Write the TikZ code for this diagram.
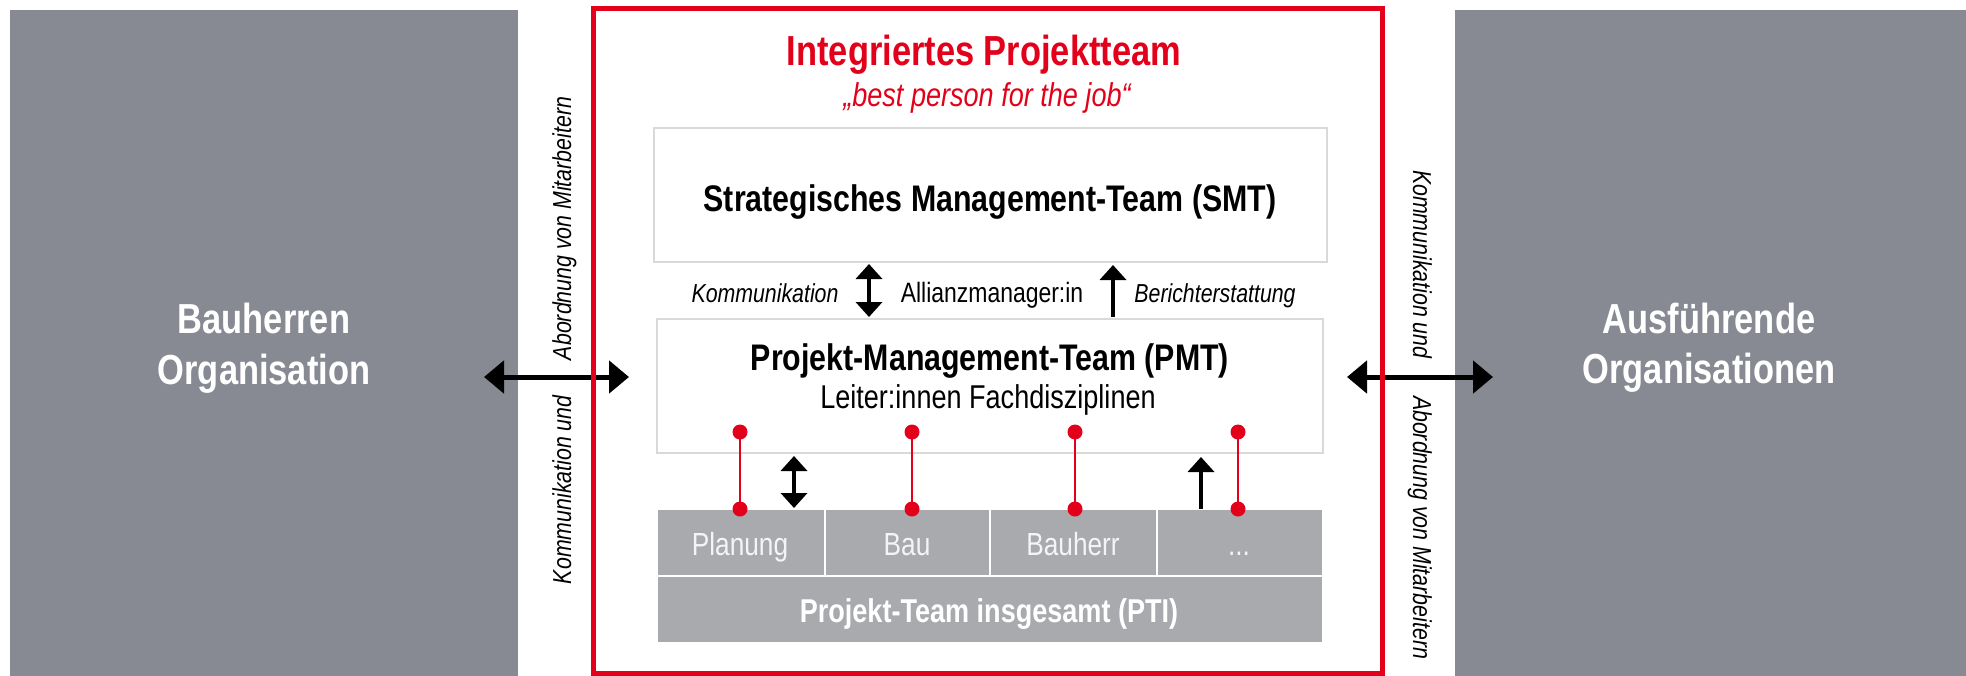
\documentclass[tikz,border=0pt]{standalone}
\usepackage{fontspec}
\setmainfont{Liberation Sans}[FakeStretch=0.82]
\usetikzlibrary{arrows.meta}

\definecolor{sidegray}{HTML}{878A93}
\definecolor{cellgray}{HTML}{A8AAAE}
\definecolor{teamred}{HTML}{E2001A}
\definecolor{boxline}{HTML}{D9D9D9}
\definecolor{celltext}{HTML}{F4F4F4}

\tikzset{
  every node/.style={outer sep=0pt},
  orgbox/.style={fill=sidegray, draw=none, anchor=north west, inner sep=0pt},
  teamframe/.style={draw=teamred, line width=5pt, anchor=north west, inner sep=0pt},
  mgmtbox/.style={draw=boxline, line width=1.5pt, fill=white, anchor=north west, inner sep=0pt},
  cellbox/.style={fill=cellgray, draw=white, line width=2pt, anchor=north west, inner sep=0pt},
  txt/.style={inner sep=0pt, anchor=base},
  orgtxt/.style={txt, text=white, font=\fontsize{42}{50}\selectfont\bfseries},
  titletxt/.style={txt, text=teamred, font=\fontsize{42}{50}\selectfont\bfseries},
  mottotxt/.style={txt, text=teamred, font=\fontsize{33}{40}\selectfont\itshape},
  mgmttxt/.style={txt, font=\fontsize{37}{44}\selectfont\bfseries},
  subtxt/.style={txt, font=\fontsize{33}{40}\selectfont},
  midtxt/.style={txt, font=\fontsize{28}{34}\selectfont},
  miditxt/.style={txt, font=\fontsize{26}{32}\selectfont\itshape},
  sidetxt/.style={inner sep=0pt, anchor=base west, font=\fontsize{26}{32}\selectfont\itshape},
  celltxt/.style={txt, text=celltext, font=\fontsize{32}{38}\selectfont},
  ptitxt/.style={txt, text=white, font=\fontsize{33}{40}\selectfont\bfseries},
  bigarrow/.style={line width=5pt, {Triangle[length=20pt,width=32pt]}-{Triangle[length=20pt,width=32pt]}},
  dblarrow/.style={line width=4pt, {Triangle[length=15pt,width=26pt]}-{Triangle[length=15pt,width=26pt]}},
  uparrow/.style={line width=4.5pt, -{Triangle[length=15pt,width=26pt]}},
  redlink/.style={draw=teamred, line width=2.5pt},
}

\begin{document}
\begin{tikzpicture}[x=1pt, y=-1pt]
  \useasboundingbox (0,0) rectangle (1966,675);

  % side organisations
  \node[orgbox, minimum width=508, minimum height=670] (lorg) at (10,10) {};
  \node[orgbox, minimum width=511, minimum height=670] (rorg) at (1455,10) {};
  \node[orgtxt] (lorgA) at (264,333) {Bauherren};
  \node[orgtxt] (lorgB) at (264,384) {Organisation};
  \node[orgtxt] (rorgA) at (1709,333) {Ausführende};
  \node[orgtxt] (rorgB) at (1709,383) {Organisationen};

  % management levels
  \node[mgmtbox, minimum width=673, minimum height=134] (smt) at (654,128) {};
  \node[mgmttxt] (smtlabel) at (990,211) {Strategisches Management-Team (SMT)};

  \node[mgmtbox, minimum width=666, minimum height=134] (pmt) at (657,319) {};
  \node[mgmttxt] (pmtlabel) at (990,370) {Projekt-Management-Team (PMT)};
  \node[subtxt] (pmtsub) at (988,408) {Leiter:innen Fachdisziplinen};

  % exchange arrows between organisations and the team
  \coordinate (arrowrow) at (0,377);
  \draw[bigarrow] ([xshift=-34pt]lorg.east |- arrowrow) -- ([xshift=-28pt]pmt.west |- arrowrow);
  \draw[bigarrow] ([xshift=24pt]pmt.east |- arrowrow) -- ([xshift=38pt]rorg.west |- arrowrow);

  % integrated project team frame
  \node[teamframe, minimum width=788.5, minimum height=665] (team) at (593.5,8.5) {};
  \node[titletxt] (title) at (984,65) {Integriertes Projektteam};
  \node[mottotxt] (motto) at (987,106) {„best person for the job“};

  % disciplines and whole project team
  \node[cellbox, minimum width=168, minimum height=67] (plan) at (657,509) {};
  \node[cellbox, minimum width=165, minimum height=67] (bau) at (825,509) {};
  \node[cellbox, minimum width=167, minimum height=67] (bauherr) at (990,509) {};
  \node[cellbox, minimum width=166, minimum height=67] (more) at (1157,509) {};
  \node[cellbox, minimum width=666, minimum height=67] (pti) at (657,576) {};
  \node[celltxt] (planlabel) at (740,555) {Planung};
  \node[celltxt] (baulabel) at (907,555) {Bau};
  \node[celltxt] (bauherrlabel) at (1073,555) {Bauherr};
  \node[celltxt] (morelabel) at (1239,555) {...};
  \node[ptitxt] (ptilabel) at (989,622) {Projekt-Team insgesamt (PTI)};

  % links between SMT and PMT
  \node[miditxt] (komm) at (765,302) {Kommunikation};
  \node[midtxt] (allianz) at (992,302) {Allianzmanager:in};
  \node[miditxt] (bericht) at (1215,302) {Berichterstattung};
  \coordinate (kx) at (869,0);
  \coordinate (bx) at (1113,0);
  \draw[dblarrow] ([yshift=-2pt]smt.south -| kx) -- ([yshift=2pt]pmt.north -| kx);
  \draw[uparrow] ([yshift=2pt]pmt.north -| bx) -- ([yshift=-3pt]smt.south -| bx);

  % links between PMT and the disciplines
  \coordinate (lx) at (794,0);
  \coordinate (ux) at (1201,0);
  \draw[dblarrow] ([yshift=-3pt]pmt.south -| lx) -- ([yshift=1pt]plan.north -| lx);
  \draw[uparrow] (more.north -| ux) -- ([yshift=-4pt]pmt.south -| ux);

  \coordinate (d1) at (740,432);
  \coordinate (d2) at (912,432);
  \coordinate (d3) at (1075,432);
  \coordinate (d4) at (1238,432);
  \foreach \d/\c in {d1/plan, d2/bau, d3/bauherr, d4/more} {
    \draw[redlink] (\d) -- (\d |- \c.north);
    \fill[teamred] (\d) circle (7.5pt) (\d |- \c.north) circle (7.5pt);
  }

  % side captions
  \node[sidetxt, rotate=90] (lcomm) at (571,584) {Kommunikation und};
  \node[sidetxt, rotate=90] (lstaff) at (571,360) {Abordnung von Mitarbeitern};
  \node[sidetxt, rotate=-90] (rcomm) at (1413,170) {Kommunikation und};
  \node[sidetxt, rotate=-90] (rstaff) at (1413,396) {Abordnung von Mitarbeitern};
\end{tikzpicture}
\end{document}
